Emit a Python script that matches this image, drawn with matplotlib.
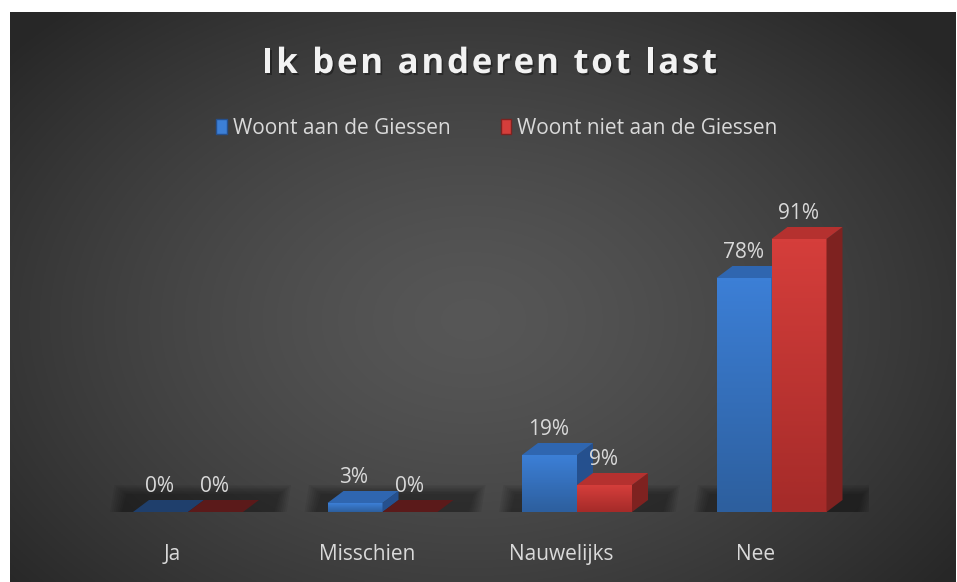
import numpy as np
import matplotlib
matplotlib.use('Agg')
import matplotlib.pyplot as plt
from matplotlib.patches import Polygon, Rectangle
import matplotlib.patheffects as pe
from matplotlib.colors import LinearSegmentedColormap

# ---- data ----
categories = ['Ja', 'Misschien', 'Nauwelijks', 'Nee']
series_names = ['Woont aan de Giessen', 'Woont niet aan de Giessen']
woont_aan = [0, 3, 19, 78]
woont_niet = [0, 0, 9, 91]
title = 'Ik ben anderen tot last'

FONT = 'Open Sans'
W, H = 957, 582
fig = plt.figure(figsize=(W / 100, H / 100), dpi=100, facecolor='white')

# ---- background (radial gradient) ----
bg = fig.add_axes([10 / W, 0, (955 - 10) / W, (H - 12) / H])
bg.set_axis_off()
ny, nx = 300, 500
yy, xx = np.mgrid[0:ny, 0:nx]
px = 10 + xx / (nx - 1) * 945
py = 12 + yy / (ny - 1) * 570
cx, cy = 470, 320
r = np.sqrt(((px - cx) / 600) ** 2 + ((py - cy) / 420) ** 2)
v = 0.34 - 0.185 * np.clip(r, 0, 1) ** 1.4
bg.imshow(np.dstack([v, v, v]), extent=[0, 1, 0, 1], aspect='auto', origin='upper')
bg.set_xlim(0, 1)
bg.set_ylim(0, 1)

# ---- main axes ----
cat_px = 194.5
left_px = 188 - 0.5 * cat_px
ax = fig.add_axes([left_px / W, (H - 512) / H, 4 * cat_px / W, 300 / H])
ax.set_xlim(-0.5, len(categories) - 0.5)
ax.set_ylim(0, 100)
ax.set_axis_off()
ax.patch.set_alpha(0)

w = 55 / cat_px      # bar width in category units
dx = 16 / cat_px     # depth offset (x)
dy = 12 / 3.0        # depth offset (y, percent units)

styles = [
    dict(top_g='#3c7fd6', bot_g='#2d5f9e', top='#2f66b0', side='#25508e', zero='#1f3f6c'),
    dict(top_g='#d53e3b', bot_g='#a52b29', top='#b5312f', side='#7e2220', zero='#5b1a1a'),
]

label_color = '#d9d9d9'
LBL = 15

for i, cat in enumerate(categories):
    # floor shadow (soft)
    gx0 = i - w - 0.06
    gx1 = i + w + dx + 0.08
    for k in range(7):
        e = k * 0.01
        ey = k * 0.5
        poly = Polygon([(gx0 - e, -ey * 0.3), (gx1 + e, -ey * 0.3),
                        (gx1 + e + dx * 0.3, dy + 2.0 + ey), (gx0 - e + dx * 0.3, dy + 2.0 + ey)],
                       closed=True, facecolor='black', alpha=0.06, edgecolor='none', zorder=1)
        ax.add_patch(poly)

    for s, vals in enumerate([woont_aan, woont_niet]):
        val = vals[i]
        st = styles[s]
        x0 = i - w + s * w
        x1 = x0 + w
        z = 2 + s
        if val == 0:
            ax.add_patch(Polygon([(x0, 0), (x1, 0), (x1 + dx, dy), (x0 + dx, dy)],
                                 closed=True, facecolor=st['zero'], edgecolor='none', zorder=z))
        else:
            cmap = LinearSegmentedColormap.from_list('g', [st['bot_g'], st['top_g']])
            grad = np.linspace(1, 0, 64).reshape(-1, 1)
            ax.imshow(grad, cmap=cmap, extent=[x0, x1, 0, val], aspect='auto',
                      origin='upper', zorder=z, interpolation='bilinear')
            ax.add_patch(Polygon([(x1, 0), (x1 + dx, dy), (x1 + dx, val + dy), (x1, val)],
                                 closed=True, facecolor=st['side'], edgecolor='none', zorder=z))
            ax.add_patch(Polygon([(x0, val), (x1, val), (x1 + dx, val + dy), (x0 + dx, val + dy)],
                                 closed=True, facecolor=st['top'], edgecolor='none', zorder=z))
        ax.text(x0 + w / 2 - 0.005, val + dy + 4.6, f'{val}%', ha='center', va='center',
                color=label_color, fontsize=LBL, family=FONT, zorder=10)

    ax.text(i - 15.5 / cat_px, -14.3, cat, ha='center', va='center', color=label_color,
            fontsize=LBL, family=FONT, clip_on=False)

ax.set_xlim(-0.5, len(categories) - 0.5)
ax.set_ylim(0, 100)

# ---- title with letter spacing ----
renderer = fig.canvas.get_renderer()
TFS = 25
tprops = dict(fontsize=TFS, fontweight='bold', family=FONT)


def text_width(s):
    t = fig.text(0, 0, s, **tprops)
    wd = t.get_window_extent(renderer).width
    t.remove()
    return wd


ref_w = text_width('I')
adv = [text_width(title[:k] + 'I') - ref_w if k > 0 else 0.0 for k in range(len(title))]
natural = adv[-1] + text_width(title[-1])
target = 717 - 262
sp = (target - natural) / (len(title) - 1)
start = 489.5 - target / 2
shadow = [pe.withSimplePatchShadow(offset=(1.2, -1.5), shadow_rgbFace='black', alpha=0.35)]
for k, ch in enumerate(title):
    if ch == ' ':
        continue
    fig.text((start + adv[k] + k * sp) / W, 1 - 73 / H, ch, ha='left', va='baseline',
             color='#f2f2f2', path_effects=shadow, **tprops)

# ---- legend ----
handles = [Rectangle((0, 0), 1, 1, facecolor=styles[0]['top_g'], edgecolor=styles[0]['side']),
           Rectangle((0, 0), 1, 1, facecolor=styles[1]['top_g'], edgecolor=styles[1]['side'])]
leg = fig.legend(handles, series_names, loc='center', bbox_to_anchor=(497 / W, 1 - 128 / H),
                 ncol=2, frameon=False, handlelength=0.5, handleheight=0.7, handletextpad=0.3,
                 columnspacing=2.4, prop={'family': FONT, 'size': LBL})
for t in leg.get_texts():
    t.set_color(label_color)

fig.savefig('out.png', dpi=100, facecolor='white')
